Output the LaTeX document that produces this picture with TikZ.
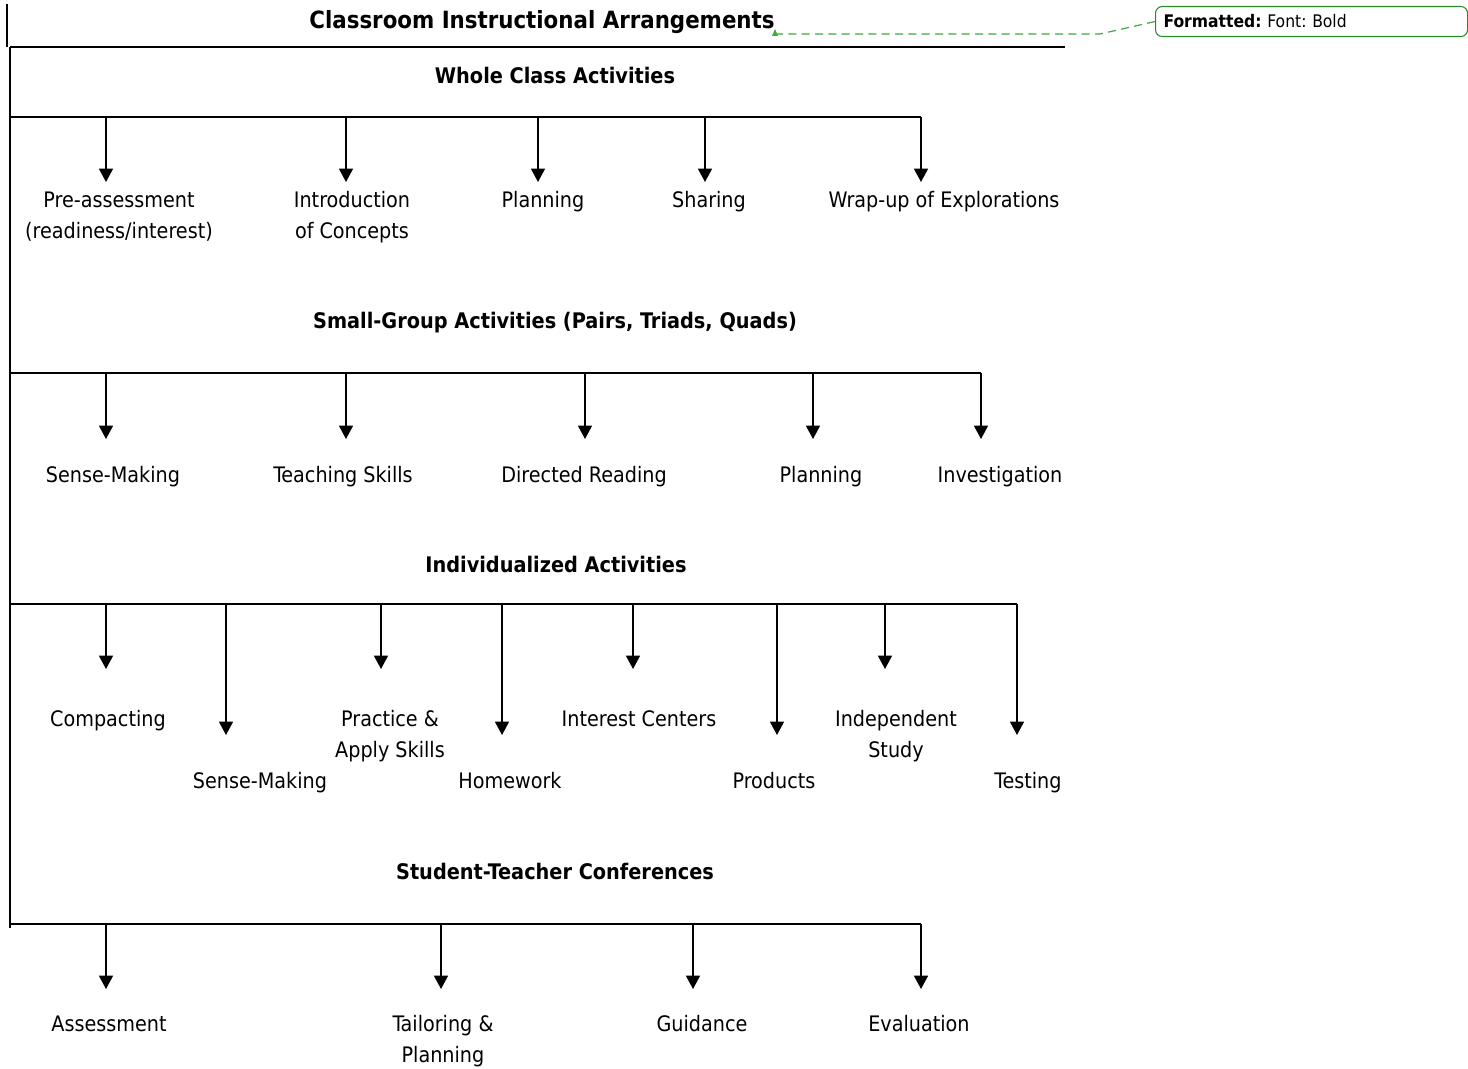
\documentclass[tikz,border=0pt]{standalone}
\usepackage{fontspec}
\setmainfont{DejaVu Sans Condensed}
\usetikzlibrary{arrows.meta}
\frenchspacing
\definecolor{boxgreen}{RGB}{40,140,40}
\definecolor{dashgreen}{RGB}{60,170,60}
\tikzset{
  lbl/.style={font=\fontsize{16}{23.25}\selectfont, align=center, anchor=base, inner sep=0pt},
  hdr/.style={font=\fontsize{16.1}{20}\selectfont\bfseries, anchor=base, inner sep=0pt},
  ttl/.style={font=\fontsize{17.8}{20}\selectfont\bfseries, anchor=base, inner sep=0pt},
  rule/.style={line width=1.2pt},
  arr/.style={line width=1.1pt, -{Triangle[width=10.5pt,length=10pt]}},
}
\begin{document}
\begin{tikzpicture}[x=0.75pt, y=-0.75pt]
\useasboundingbox (0,0) rectangle (1468,1069);
% cursor mark and frame
\draw[line width=1.6pt] (7,4) -- (7,47);
\node[ttl] (title) at (542,29) {Classroom Instructional Arrangements};
\coordinate (tl) at (10,47);
\coordinate (tr) at (1065,47);
\coordinate (bl) at (10,928);
\draw[line width=1.5pt] (tl) -- (tr);
\draw[rule] (tl) -- (bl);
% comment balloon
\node[draw=boxgreen, rounded corners=5pt, line width=0.8pt, minimum width=234pt, minimum height=22.5pt, anchor=north west, inner sep=0pt, font=\fontsize{13}{14}\selectfont, text width=222pt, align=left] (fmt) at (1155,6) {\textbf{Formatted:} Font: Bold};
\coordinate (c0) at (775,34);
\coordinate (c1) at (1100,34);
\draw[dashgreen, line width=0.9pt, dash pattern=on 6pt off 4pt] (c0) -- (c1) -- (fmt.west);
\fill[dashgreen] (772,36) -- (778,36) -- (775,29) -- cycle;

% ---- Whole class
\node[hdr] (h1) at (555,84) {Whole Class Activities};
\coordinate (l1a) at (10,117);
\coordinate (l1b) at (921,117);
\draw[rule] (l1a) -- (l1b);
\foreach \x/\n in {106/1,346/2,538/3,705/4,921/5}{
  \coordinate (s1\n) at (\x,117);
  \coordinate (e1\n) at (\x,182);
  \draw[arr] (s1\n) -- (e1\n);
}
\node[lbl] (w1) at (119,239) {Pre-assessment\\(readiness/interest)};
\node[lbl] (w2) at (352,239) {Introduction\\of Concepts};
\node[lbl] (w3) at (543,208) {Planning};
\node[lbl] (w4) at (709,208) {Sharing};
\node[lbl] (w5) at (944,208) {Wrap-up of Explorations};

% ---- Small group
\node[hdr] (h2) at (555,329) {Small-Group Activities (Pairs, Triads, Quads)};
\coordinate (l2a) at (10,373);
\coordinate (l2b) at (981,373);
\draw[rule] (l2a) -- (l2b);
\foreach \x/\n in {106/1,346/2,585/3,813/4,981/5}{
  \coordinate (s2\n) at (\x,373);
  \coordinate (e2\n) at (\x,439);
  \draw[arr] (s2\n) -- (e2\n);
}
\node[lbl] (g1) at (113,483) {Sense-Making};
\node[lbl] (g2) at (343,483) {Teaching Skills};
\node[lbl] (g3) at (584,483) {Directed Reading};
\node[lbl] (g4) at (821,483) {Planning};
\node[lbl] (g5) at (1000,483) {Investigation};

% ---- Individualized
\node[hdr] (h3) at (556,573) {Individualized Activities};
\coordinate (l3a) at (10,604);
\coordinate (l3b) at (1017,604);
\draw[rule] (l3a) -- (l3b);
\foreach \x/\n/\y in {106/1/669,226/2/735,381/3/669,502/4/735,633/5/669,777/6/735,885/7/669,1017/8/735}{
  \coordinate (s3\n) at (\x,604);
  \coordinate (e3\n) at (\x,\y);
  \draw[arr] (s3\n) -- (e3\n);
}
\node[lbl] (i1) at (108,726) {Compacting};
\node[lbl] (i2) at (260,788) {Sense-Making};
\node[lbl] (i3) at (390,757) {Practice \&\\Apply Skills};
\node[lbl] (i4) at (510,788) {Homework};
\node[lbl] (i5) at (639,726) {Interest Centers};
\node[lbl] (i6) at (774,788) {Products};
\node[lbl] (i7) at (896,757) {Independent\\Study};
\node[lbl] (i8) at (1028,788) {Testing};

% ---- Conferences
\node[hdr] (h4) at (555,879) {Student-Teacher Conferences};
\coordinate (l4a) at (10,924);
\coordinate (l4b) at (921,924);
\draw[rule] (l4a) -- (l4b);
\foreach \x/\n in {106/1,441/2,693/3,921/4}{
  \coordinate (s4\n) at (\x,924);
  \coordinate (e4\n) at (\x,989);
  \draw[arr] (s4\n) -- (e4\n);
}
\node[lbl] (c1n) at (109,1031) {Assessment};
\node[lbl] (c2n) at (443,1062) {Tailoring \&\\Planning};
\node[lbl] (c3n) at (702,1031) {Guidance};
\node[lbl] (c4n) at (919,1031) {Evaluation};
\end{tikzpicture}
\end{document}
